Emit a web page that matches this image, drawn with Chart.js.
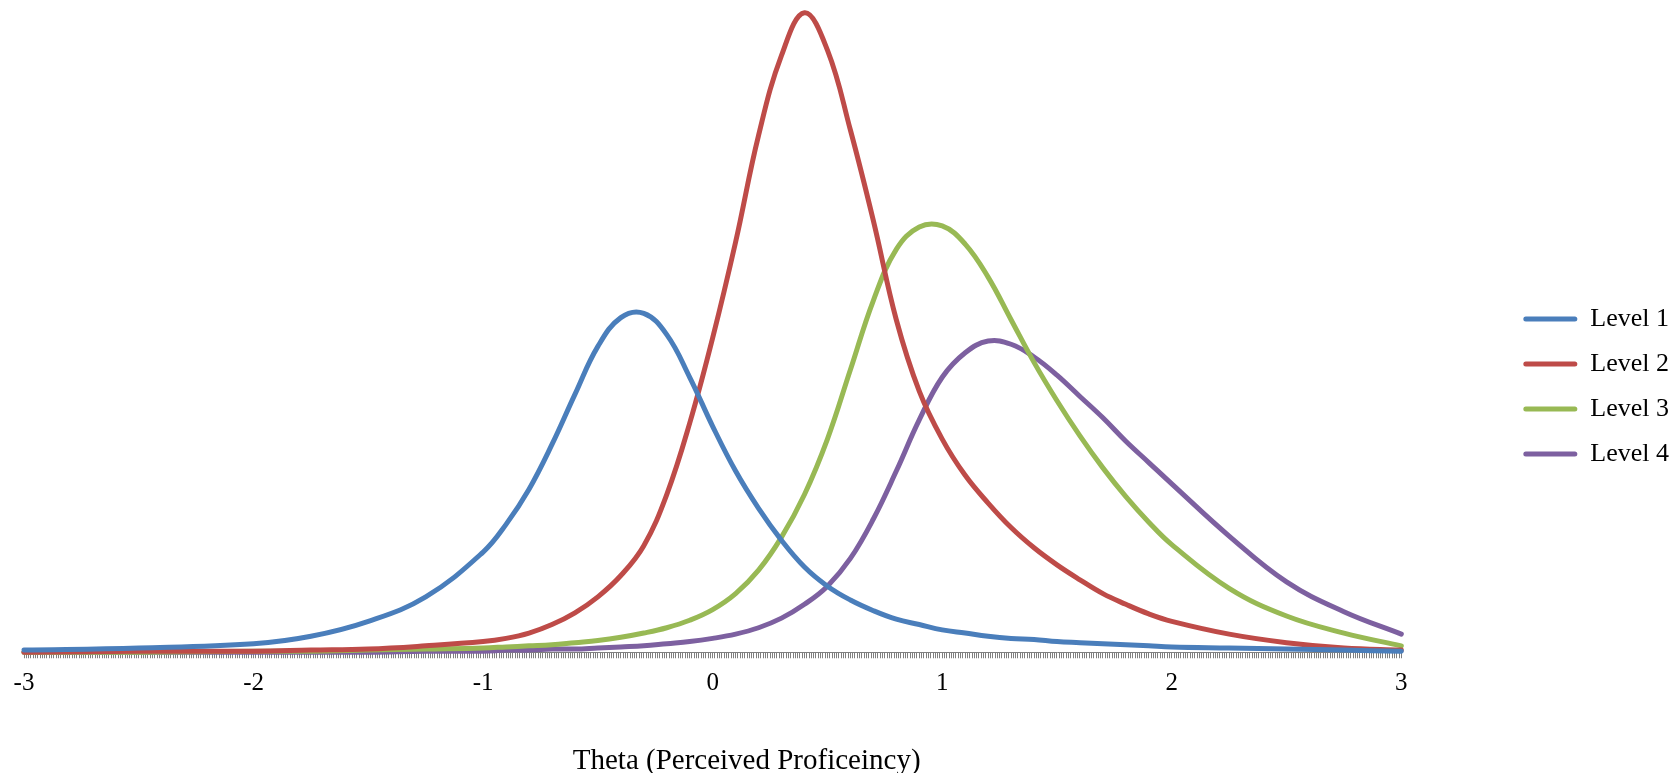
<!DOCTYPE html>
<html>
<head>
<meta charset="utf-8">
<script src="https://cdn.jsdelivr.net/npm/chart.js@4/dist/chart.umd.min.js"></script>
<style>
    html, body { margin: 0; padding: 0; background: #fff; }
    #wrap { width: 1673px; height: 773px; }
</style>
</head>
<body>
<div id="wrap"><canvas id="infoChart"></canvas></div>
<script>
// --- Data ---
const theta = [-3, -2.5, -2, -1.75, -1.5, -1.25, -1, -0.9, -0.8, -0.7, -0.6, -0.5, -0.4, -0.3, -0.2, -0.1,
    0, 0.1, 0.2, 0.3, 0.4, 0.5, 0.6, 0.7, 0.8, 0.9, 1.0, 1.1, 1.2, 1.3, 1.4, 1.5, 1.6, 1.7, 1.8, 1.9, 2.0,
    2.25, 2.5, 2.75, 3];

const level1 = [0.002, 0.004, 0.008, 0.015, 0.029, 0.052, 0.094, 0.120, 0.153, 0.195, 0.242, 0.287, 0.314, 0.318, 0.298, 0.258,
    0.212, 0.170, 0.135, 0.105, 0.080, 0.062, 0.049, 0.039, 0.031, 0.026, 0.021, 0.018, 0.015, 0.013, 0.012, 0.010, 0.009, 0.008, 0.007, 0.006, 0.005,
    0.004, 0.003, 0.002, 0.001];

const level2 = [0.000, 0.001, 0.001, 0.002, 0.003, 0.006, 0.010, 0.013, 0.018, 0.026, 0.037, 0.052, 0.072, 0.100, 0.148, 0.215,
    0.295, 0.385, 0.485, 0.560, 0.600, 0.565, 0.490, 0.405, 0.312, 0.245, 0.200, 0.166, 0.140, 0.117, 0.098, 0.082, 0.068, 0.055, 0.045, 0.036, 0.029,
    0.017, 0.009, 0.004, 0.002];

const level3 = [0.000, 0.000, 0.001, 0.001, 0.002, 0.003, 0.004, 0.005, 0.006, 0.007, 0.009, 0.011, 0.014, 0.018, 0.023, 0.030,
    0.040, 0.055, 0.077, 0.108, 0.148, 0.200, 0.265, 0.330, 0.378, 0.399, 0.400, 0.383, 0.352, 0.312, 0.272, 0.236, 0.203, 0.173, 0.146, 0.122, 0.101,
    0.060, 0.034, 0.018, 0.006];

const level4 = [0.000, 0.000, 0.000, 0.000, 0.000, 0.001, 0.001, 0.002, 0.002, 0.003, 0.003, 0.004, 0.005, 0.006, 0.008, 0.010,
    0.013, 0.017, 0.023, 0.032, 0.045, 0.062, 0.088, 0.125, 0.170, 0.218, 0.258, 0.281, 0.292, 0.289, 0.277, 0.260, 0.240, 0.220, 0.198, 0.178, 0.158,
    0.109, 0.066, 0.038, 0.017];

const seriesNames = ['Level 1', 'Level 2', 'Level 3', 'Level 4'];
const seriesColors = ['#4A7EBB', '#BE4B48', '#98B954', '#7D60A0'];
const axisLabels = ['-3', '-2', '-1', '0', '1', '2', '3'];
const axisTitle = 'Theta (Perceived Proficeincy)';

// --- Chart setup ---
const serif = 'Liberation Serif, Times New Roman, serif';
const allSeries = [level1, level2, level3, level4];

const datasets = allSeries.map((vals, i) => ({
    label: seriesNames[i],
    data: theta.map((t, j) => ({ x: t, y: vals[j] })),
    borderColor: seriesColors[i],
    backgroundColor: seriesColors[i],
    borderWidth: 5,
    borderCapStyle: 'round',
    borderJoinStyle: 'round',
    pointRadius: 0,
    tension: 0.4,
    clip: false,
    fill: false
}));

// the original centres its title a bit right of the plot, and hugs the legend to the edge
const nudgeBoxes = {
    id: 'nudgeBoxes',
    afterLayout(chart) {
        const t = chart.titleBlock;
        if (t) { t.left += 34; t.right += 34; }
        const l = chart.legend;
        if (l) { l.left += 6; l.right += 6; }
    }
};

const ctx = document.getElementById('infoChart').getContext('2d');
const infoChart = new Chart(ctx, {
    type: 'line',
    data: { datasets },
    plugins: [nudgeBoxes],
    options: {
        responsive: true,
        maintainAspectRatio: false,
        animation: false,
        layout: { padding: 0 },
        scales: {
            x: {
                type: 'linear',
                min: -3,
                max: 3,
                afterBuildTicks: scale => {
                    // one small mark every 0.01, labels only on whole numbers
                    const ticks = [];
                    for (let i = -300; i <= 300; i++) ticks.push({ value: i / 100 });
                    scale.ticks = ticks;
                },
                ticks: {
                    autoSkip: false,
                    maxRotation: 0,
                    minRotation: 0,
                    padding: 10,
                    color: '#000',
                    font: { family: serif, size: 25 },
                    callback: v => {
                        const r = Math.round(v);
                        return Math.abs(v - r) < 1e-6 ? axisLabels[r + 3] : '';
                    }
                },
                grid: {
                    drawOnChartArea: false,
                    drawTicks: true,
                    tickLength: 6,
                    color: '#7F7F7F',
                    lineWidth: 1
                },
                border: { display: true, color: '#7F7F7F', width: 1 }
            },
            y: {
                min: 0,
                max: 0.612,
                ticks: { display: false },
                grid: { display: false },
                border: { display: false },
                afterFit: scale => { scale.width = 24; }
            },
            gap: {
                type: 'linear',
                position: 'right',
                ticks: { display: false },
                grid: { display: false },
                border: { display: false },
                afterFit: scale => { scale.width = 97; }
            }
        },
        plugins: {
            legend: {
                position: 'right',
                labels: {
                    boxWidth: 54,
                    boxHeight: 5,
                    padding: 19,
                    color: '#000',
                    useBorderRadius: true,
                    borderRadius: 2.5,
                    font: { family: serif, size: 26 },
                    generateLabels: chart =>
                        Chart.defaults.plugins.legend.labels.generateLabels(chart)
                            .map(l => ({ ...l, lineWidth: 0, fillStyle: l.strokeStyle }))
                }
            },
            title: {
                display: true,
                position: 'bottom',
                fullSize: false,
                text: axisTitle,
                color: '#000',
                font: { family: serif, size: 29, weight: 'normal', lineHeight: 0.75 },
                padding: { top: 42, bottom: 1 }
            },
            tooltip: { enabled: false }
        }
    }
});
</script>
</body>
</html>
